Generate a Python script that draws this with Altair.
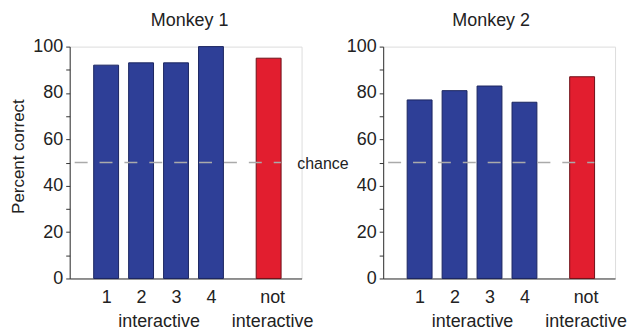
import altair as alt
import pandas as pd

# ---- data ----
categories = ["1", "2", "3", "4", "not interactive"]
positions = [1, 2, 3, 4, 5.65]
groups = ["interactive", "interactive", "interactive", "interactive", "not interactive"]
monkey1 = [92, 93, 93, 100, 95]
monkey2 = [77, 81, 83, 76, 87]
chance_level = 50
tick_positions = [1, 2, 2.5, 3, 4, 5.75]
y_ticks = [0, 10, 20, 30, 40, 50, 60, 70, 80, 90, 100]

FONT = "Liberation Sans"
BLUE, RED = "#2E3F97", "#E21E2F"
BLUE_EDGE, RED_EDGE = "#1B2560", "#6E1018"


def panel(title, vals, first, dx):
    df = pd.DataFrame({"pos": positions, "val": vals, "group": groups, "cat": categories})
    xs = alt.Scale(domain=[0.1, 6.45], nice=False, zero=False)
    ys = alt.Scale(domain=[0, 100], nice=False)
    xaxis = alt.Axis(
        values=tick_positions,
        labelExpr="datum.value == 2.5 ? ['', 'interactive'] : (datum.value > 5 ? ['not', 'interactive'] : '' + datum.value)",
        ticks=False, tickSize=0, grid=False, labelOverlap=False, labelFlush=False,
        labelPadding=10, labelFontSize=18, labelLineHeight=24, labelColor="#222",
        domainColor="#333", labelAngle=0,
    )
    yaxis = alt.Axis(
        values=y_ticks,
        labelExpr="datum.value % 20 == 0 ? datum.label : ''",
        tickSize=4, grid=False, labelPadding=3, labelFontSize=18, labelColor="#222",
        domainColor="#333", tickColor="#333", labelOverlap=False, labelFlush=False,
        titleFontSize=17, titleFontWeight="normal", titleColor="#222", titleY=110,
        titlePadding=5,
    )
    ytitle = "Percent correct" if first else None
    xenc = alt.X("pos:Q", scale=xs, axis=xaxis, title=None)
    yenc = alt.Y("val:Q", scale=ys, axis=yaxis, title=ytitle)

    bars = alt.Chart(df).mark_bar(size=25, strokeWidth=1).encode(
        x=xenc, y=yenc,
        color=alt.Color("group:N", scale=alt.Scale(domain=["interactive", "not interactive"], range=[BLUE, RED]), legend=None),
        stroke=alt.Stroke("group:N", scale=alt.Scale(domain=["interactive", "not interactive"], range=[BLUE_EDGE, RED_EDGE]), legend=None),
    )
    rule_df = pd.DataFrame({"pos": [0.1], "pos2": [6.0], "val": [chance_level]})
    rule = alt.Chart(rule_df).mark_rule(strokeDash=[13, 12], color="#aaaaaa", strokeWidth=1.5).encode(
        x=xenc, x2="pos2:Q", y=yenc
    )
    layers = [bars, rule]
    if first:
        txt_df = pd.DataFrame({"pos": [6.47], "val": [chance_level], "t": ["chance"]})
        txt = alt.Chart(txt_df).mark_text(align="left", baseline="middle", fontSize=16, dy=1, color="#222", font=FONT).encode(
            x=xenc, y=yenc, text="t:N"
        )
        layers.append(txt)
    return alt.layer(*layers).properties(
        width=233, height=233,
        title=alt.TitleParams(title, fontSize=18, fontWeight="normal", frame="group", dx=dx, offset=8, color="#222", font=FONT),
    )


p1 = panel("Monkey 1", monkey1, True, 4)
p2 = panel("Monkey 2", monkey2, False, -8)

chart = alt.hconcat(p1, p2, spacing=82, bounds="flush").properties(
    padding={"left": 1, "top": 2, "right": 0, "bottom": 0}
).configure_view(stroke=None).configure(font=FONT)

chart.save("out.html", embed_options={"renderer": "svg", "actions": False})
